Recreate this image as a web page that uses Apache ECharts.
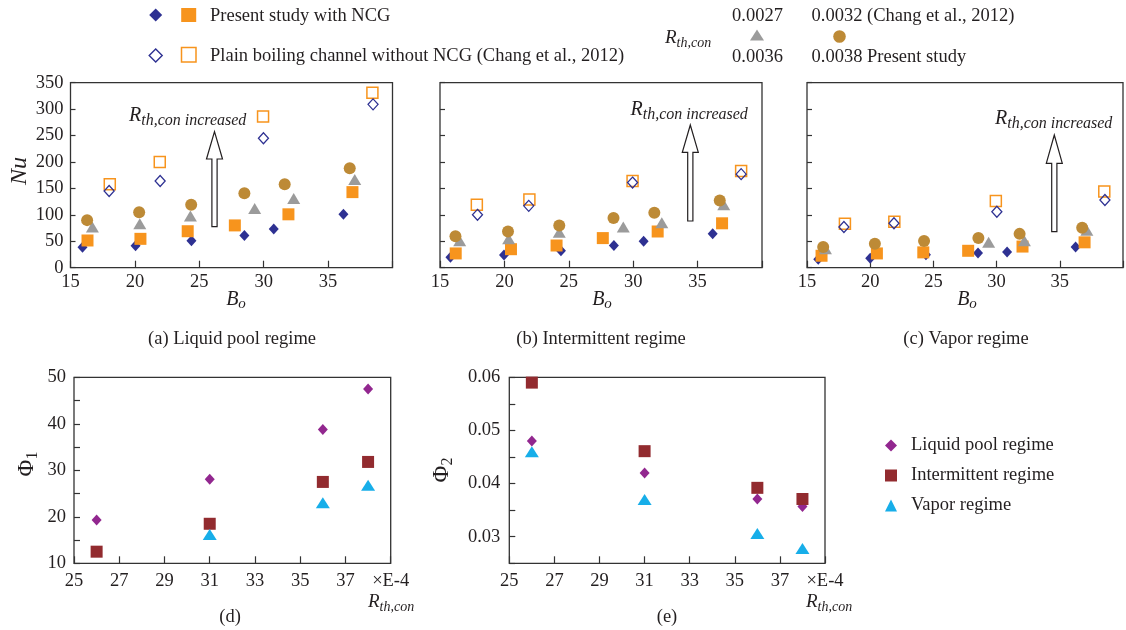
<!DOCTYPE html>
<html><head><meta charset="utf-8">
<script src="https://cdn.jsdelivr.net/npm/echarts@6/dist/echarts.min.js"></script>
<style>html,body{margin:0;padding:0;background:#fff}#c{width:1126px;height:630px}</style>
</head><body><div id="c"></div>
<script>
// ---------- DATA ----------
// Panel (a) Liquid pool regime: [Bo, Nu]
const aNcgDiamond   = [[15.93,38.8],[20.05,41.3],[24.39,50.8],[28.5,61],[30.78,73],[36.19,101]];
const aNcgSquare    = [[16.32,51.5],[20.43,54.6],[24.1,69],[27.76,80],[31.92,101],[36.89,143]];
const aPlainDiamond = [[18.0,145],[21.96,164],[29.98,245],[38.49,309]];
const aPlainSquare  = [[18.05,158],[21.93,200],[29.95,286],[38.44,331]];
const aTriangle     = [[16.7,77],[20.38,83],[24.31,98],[29.3,112],[32.33,131],[37.07,167]];
const aCircle       = [[16.29,90],[20.33,105],[24.37,119],[28.5,141],[31.63,158],[36.68,188]];
// Panel (b) Intermittent regime
const bNcgDiamond   = [[15.81,20],[19.97,24],[24.39,32],[28.5,42],[30.81,50],[36.17,64]];
const bNcgSquare    = [[16.22,27],[20.51,35],[24.05,42],[27.64,56],[31.9,68.5],[36.9,84]];
const bPlainDiamond = [[17.91,100],[21.89,117],[29.95,161],[38.38,177]];
const bPlainSquare  = [[17.86,119],[21.94,129],[29.95,164],[38.38,183]];
const bTriangle     = [[16.53,51],[20.33,55],[24.26,67],[29.23,77],[32.22,85],[37.03,119]];
const bCircle       = [[16.2,59.6],[20.28,68.5],[24.26,80],[28.47,94],[31.64,104],[36.72,127]];
// Panel (c) Vapor regime
const cNcgDiamond   = [[15.89,16],[20.0,18],[24.41,24.5],[28.53,27.7],[30.83,29.6],[36.25,39]];
const cNcgSquare    = [[16.15,22.6],[20.53,27],[24.2,29],[27.75,32],[32.05,40],[36.96,48]];
const cPlainDiamond = [[17.92,77],[21.88,84],[30.02,106],[38.57,128]];
const cPlainSquare  = [[18.0,83],[21.91,87],[29.94,126],[38.52,144]];
const cTriangle     = [[16.46,36],[29.37,48],[32.2,51],[37.14,71]];
const cCircle       = [[16.28,39],[20.37,45.5],[24.26,50.6],[28.56,56.4],[31.82,64],[36.77,75.5]];
// Panels (d), (e): R_th,con (x1E-4)
const rthX        = [26, 31, 36, 38];
const phi1Liquid  = [19.3, 28.1, 38.8, 47.5];
const phi1Inter   = [12.5, 18.5, 27.5, 31.8];
const phi1Vapor   = [null, 16.2, 23.0, 26.8];
const phi2Liquid  = [0.048, 0.042, 0.0371, 0.0357];
const phi2Inter   = [0.059, 0.0461, 0.0392, 0.0371];
const phi2Vapor   = [0.046, 0.037, 0.0306, 0.0278];
const nuTicks = {min:0, max:350, step:50};
const boTicks = {min:15, max:40, step:5};
const rthTicks = {min:25, max:39, step:2};

// ---------- STYLE ----------
const FONT = 'Liberation Serif';
const TXT = '#231f20';
const FRAME = '#333333';
const NAVY = '#2e3192', ORANGE = '#f7941d', GRAY = '#9b9b9b', BROWN = '#bd8a36';
const PURPLE = '#92278f', DRED = '#922b2f', CYAN = '#17aee9';

const zip = (xs, ys) => xs.map((x,i)=>[x, ys[i]]).filter(p=>p[1]!=null);

const grids = [
  {left:70.5, top:82.7, width:322, height:185},
  {left:440, top:82.7, width:322, height:185},
  {left:807, top:82.7, width:320, height:185},
  {left:74, top:377.3, width:316.7, height:186},
  {left:509.3, top:377.3, width:315.7, height:186}
].map(g=>Object.assign(g,{show:true, borderColor:FRAME, borderWidth:1.3, backgroundColor:'transparent'}));

const labelBase = {fontFamily:FONT, fontSize:18.5, color:TXT};
function boAxis(i){
  return {gridIndex:i, type:'value', min:boTicks.min, max:boTicks.max, interval:boTicks.step,
    axisLine:{show:false}, splitLine:{show:false},
    axisTick:{inside:true, length:7, lineStyle:{color:FRAME, width:1.2}},
    axisLabel:Object.assign({margin:5, formatter:v=> v===40?'':String(v)}, labelBase)};
}
function nuAxis(i, show){
  return {gridIndex:i, type:'value', min:nuTicks.min, max:nuTicks.max, interval:nuTicks.step,
    axisLine:{show:false}, splitLine:{show:false},
    axisTick:{inside:true, length:5, lineStyle:{color:FRAME, width:1.2}},
    axisLabel:Object.assign({show:show, margin:7}, labelBase)};
}
function rthAxis(i){
  return {gridIndex:i, type:'value', min:rthTicks.min, max:rthTicks.max, interval:rthTicks.step,
    axisLine:{show:false}, splitLine:{show:false},
    axisTick:{inside:true, length:7, lineStyle:{color:FRAME, width:1.2}},
    axisLabel:Object.assign({margin:8, formatter:v=> v===39?'×E-4':String(v)}, labelBase)};
}
const xAxes = [boAxis(0), boAxis(1), boAxis(2), rthAxis(3), rthAxis(4)];
const yAxes = [nuAxis(0,true), nuAxis(1,false), nuAxis(2,false),
  {gridIndex:3, type:'value', min:10, max:50, interval:5, axisLine:{show:false}, splitLine:{show:false},
   axisTick:{inside:true, length:6, lineStyle:{color:FRAME, width:1.2}},
   axisLabel:Object.assign({margin:8, formatter:v=> v%10===0?String(v):''}, labelBase)},
  {gridIndex:4, type:'value', min:0.025, max:0.06, interval:0.005, axisLine:{show:false}, splitLine:{show:false},
   axisTick:{inside:true, length:6, lineStyle:{color:FRAME, width:1.2}},
   axisLabel:Object.assign({margin:9, formatter:v=>{const k=Math.round(v*1000); return k%10===0? v.toFixed(2):'';}}, labelBase)}
];

function sc(name, data, i, symbol, size, itemStyle){
  return {type:'scatter', name, xAxisIndex:i, yAxisIndex:i, data, symbol, symbolSize:size,
    itemStyle:Object.assign({opacity:1}, itemStyle), emphasis:{disabled:true}, silent:true, animation:false};
}
const series = [];
[[aNcgDiamond,aNcgSquare,aTriangle,aCircle,aPlainSquare,aPlainDiamond],
 [bNcgDiamond,bNcgSquare,bTriangle,bCircle,bPlainSquare,bPlainDiamond],
 [cNcgDiamond,cNcgSquare,cTriangle,cCircle,cPlainSquare,cPlainDiamond]].forEach((p,i)=>{
  series.push(sc('ncgD'+i, p[0], i, 'diamond', [10,11], {color:NAVY}));
  series.push(sc('ncgS'+i, p[1], i, 'rect', 12, {color:ORANGE}));
  series.push(sc('tri'+i, p[2], i, 'triangle', [13,11], {color:GRAY}));
  series.push(sc('cir'+i, p[3], i, 'circle', 12, {color:BROWN}));
  series.push(sc('plS'+i, p[4], i, 'rect', 11, {color:'rgba(255,255,255,0)', borderColor:ORANGE, borderWidth:1.5}));
  series.push(sc('plD'+i, p[5], i, 'diamond', [10,11], {color:'rgba(255,255,255,0)', borderColor:NAVY, borderWidth:1.3}));
});
series.push(sc('Liquid pool regime', zip(rthX, phi1Liquid), 3, 'diamond', [10,11], {color:PURPLE}));
series.push(sc('Intermittent regime', zip(rthX, phi1Inter), 3, 'rect', 12, {color:DRED}));
series.push(sc('Vapor regime', zip(rthX, phi1Vapor), 3, 'triangle', [14,11], {color:CYAN}));
series.push(sc('Liquid pool regime', zip(rthX, phi2Liquid), 4, 'diamond', [10,11], {color:PURPLE}));
series.push(sc('Intermittent regime', zip(rthX, phi2Inter), 4, 'rect', 12, {color:DRED}));
series.push(sc('Vapor regime', zip(rthX, phi2Vapor), 4, 'triangle', [14,11], {color:CYAN}));

// ---------- GRAPHICS (annotations, legend, labels) ----------
function txt(x, y, text, opt){
  opt = opt || {};
  return {type:'text', x, y, rotation:opt.rot||0, z:100, style:Object.assign({
    text, fontFamily:FONT, fontSize:18.5, fill:TXT, textAlign:opt.align||'center', textVerticalAlign:'middle'}, opt.style||{})};
}
function rich(x, y, text, richDef, opt){
  opt = opt || {};
  return {type:'text', x, y, rotation:opt.rot||0, z:100, style:{text, rich:richDef, fill:TXT,
    textAlign:opt.align||'center', textVerticalAlign:'middle', fontFamily:FONT}};
}
const rthRich = {
  r:{fontFamily:FONT, fontStyle:'italic', fontSize:20, lineHeight:26, verticalAlign:'middle', color:TXT},
  s:{fontFamily:FONT, fontStyle:'italic', fontSize:16, lineHeight:18, verticalAlign:'bottom', color:TXT}
};
const rthSmall = {
  r:{fontFamily:FONT, fontStyle:'italic', fontSize:19, lineHeight:24, verticalAlign:'middle', color:TXT},
  s:{fontFamily:FONT, fontStyle:'italic', fontSize:14, lineHeight:15, verticalAlign:'bottom', color:TXT}
};
const boRich = {
  b:{fontFamily:FONT, fontStyle:'italic', fontSize:20, lineHeight:24, verticalAlign:'middle', color:TXT},
  o:{fontFamily:FONT, fontStyle:'italic', fontSize:15, lineHeight:15, verticalAlign:'bottom', color:TXT}
};
const phiRich = {
  p:{fontFamily:FONT, fontSize:23, lineHeight:28, verticalAlign:'middle', color:TXT},
  n:{fontFamily:FONT, fontSize:16, lineHeight:17, verticalAlign:'bottom', color:TXT}
};
function arrow(cx, tip, base, bottom){
  const hw = 8, sw = 2.6;
  return {type:'polygon', z:90, shape:{points:[[cx,tip],[cx+hw,base],[cx+sw,base],[cx+sw,bottom],[cx-sw,bottom],[cx-sw,base],[cx-hw,base]]},
    style:{fill:'#fff', stroke:TXT, lineWidth:1.2}};
}
function diamondShape(cx, cy, r, fill, stroke){
  return {type:'polygon', z:100, shape:{points:[[cx,cy-r],[cx+r,cy],[cx,cy+r],[cx-r,cy]]},
    style:{fill:fill, stroke:stroke||null, lineWidth:1.4}};
}
const graphic = [
  // top legend
  diamondShape(155.7, 15, 6.5, NAVY),
  {type:'rect', z:100, shape:{x:181.2, y:8, width:15, height:14}, style:{fill:ORANGE}},
  txt(210, 16, 'Present study with NCG', {align:'left'}),
  diamondShape(155.7, 55.5, 6.5, '#fff', NAVY),
  {type:'rect', z:100, shape:{x:181.5, y:47.5, width:14.5, height:14.5}, style:{fill:'#fff', stroke:ORANGE, lineWidth:1.5}},
  txt(210, 56.5, 'Plain boiling channel without NCG (Chang et al., 2012)', {align:'left'}),
  rich(665, 38, '{r|R}{s|th,con}', rthSmall, {align:'left'}),
  txt(732, 16, '0.0027', {align:'left'}),
  txt(732, 57, '0.0036', {align:'left'}),
  {type:'polygon', z:100, shape:{points:[[757,29.5],[764,40.5],[750,40.5]]}, style:{fill:GRAY}},
  {type:'circle', z:100, shape:{cx:839.5, cy:36.5, r:6.3}, style:{fill:BROWN}},
  txt(811.5, 16, '0.0032 (Chang et al., 2012)', {align:'left'}),
  txt(811.5, 57, '0.0038 Present study', {align:'left'}),
  // arrows & annotations
  arrow(214.5, 131.7, 159, 226.7),
  arrow(690.3, 125, 152.3, 221),
  arrow(1054.3, 135, 163.3, 231.7),
  rich(129, 116, '{r|R}{s|th,con increased}', rthRich, {align:'left'}),
  rich(630.5, 109.3, '{r|R}{s|th,con increased}', rthRich, {align:'left'}),
  rich(995, 118.3, '{r|R}{s|th,con increased}', rthRich, {align:'left'}),
  // axis titles
  txt(20, 171, 'Nu', {rot:Math.PI/2, style:{fontStyle:'italic', fontSize:24}}),
  rich(236, 300, '{b|B}{o|o}', boRich),
  rich(602, 300, '{b|B}{o|o}', boRich),
  rich(967, 300, '{b|B}{o|o}', boRich),
  rich(27, 464, '{p|Φ}{n|1}', phiRich, {rot:Math.PI/2}),
  rich(442, 470, '{p|Φ}{n|2}', phiRich, {rot:Math.PI/2}),
  rich(368, 602, '{r|R}{s|th,con}', rthSmall, {align:'left'}),
  rich(806, 602, '{r|R}{s|th,con}', rthSmall, {align:'left'}),
  // panel captions
  txt(232, 339, '(a) Liquid pool regime'),
  txt(601, 339, '(b) Intermittent regime'),
  txt(966, 339, '(c) Vapor regime'),
  txt(230, 617, '(d)'),
  txt(667, 617, '(e)')
];

const chart = echarts.init(document.getElementById('c'), null, {renderer:'canvas'});
chart.setOption({
  animation:false,
  backgroundColor:'#fff',
  grid:grids, xAxis:xAxes, yAxis:yAxes, series,
  legend:{data:['Liquid pool regime','Intermittent regime','Vapor regime'], orient:'vertical',
    left:880, top:431, itemWidth:12, itemHeight:12, itemGap:11, selectedMode:false,
    itemStyle:{opacity:1},
    textStyle:{fontFamily:FONT, fontSize:18.5, color:TXT, lineHeight:19, padding:[0,0,0,9]}},
  graphic
});
</script></body></html>
